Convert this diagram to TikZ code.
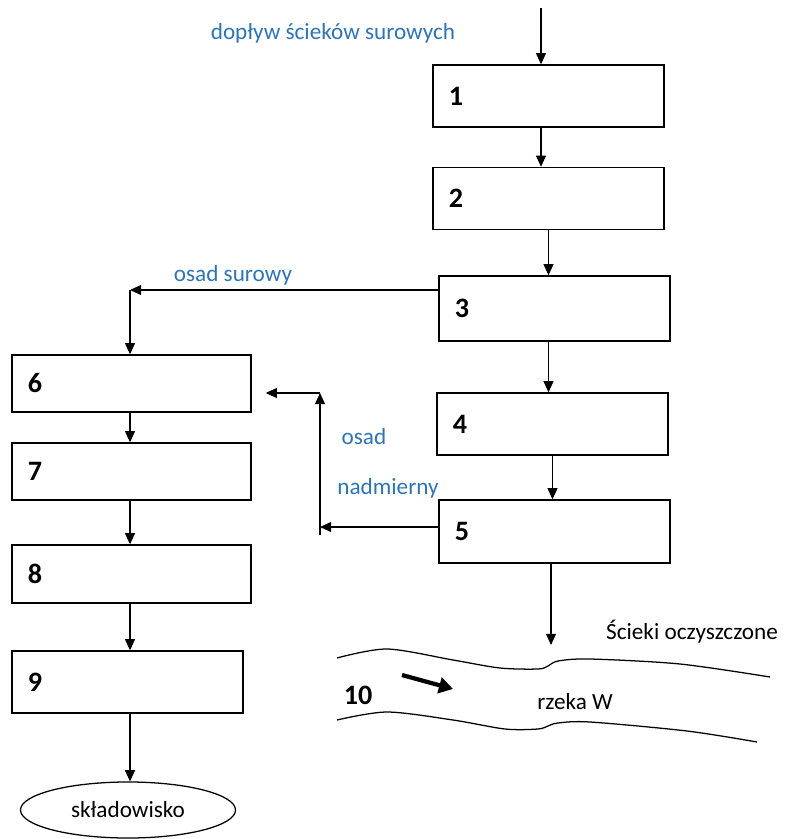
\documentclass[tikz,border=0pt]{standalone}
\usepackage{fontspec}
\setmainfont{Carlito}
\usetikzlibrary{arrows.meta, shapes.geometric}
\definecolor{flowblue}{RGB}{46,116,181}
\tikzset{
>={Triangle[length=2.8mm, width=2.5mm]}, % filled arrow heads
stage/.style={draw, line width=1pt, rectangle, inner xsep=0.4cm, text width=#1, minimum height=1.55cm, align=left, font=\fontsize{20}{22}\selectfont\bfseries}, % process box with its number on the left
stage/.default=4.975cm,
flow/.style={->, line width=0.8pt}, % connector between stages
note/.style={text=flowblue, font=\fontsize{16.5}{20}\selectfont}, % blue flow label
plain/.style={font=\fontsize{16.5}{20}\selectfont}, % black label
bank/.style={line width=0.9pt}, % river bank
}
\begin{document}
\begin{tikzpicture}[x=0.025cm, y=-0.025cm]
\useasboundingbox (0,0) rectangle (787,839);

% water line
\node[stage] (s_1) at (548.5,96) {1};
\node[stage] (s_2) at (548.5,198.5) {2};
\node[stage, minimum height=1.625cm] (s_3) at (554.5,308.5) {3};
\node[stage] (s_4) at (552.5,424) {4};
\node[stage, minimum height=1.575cm] (s_5) at (554.5,531.5) {5};

% sludge line
\node[stage=5.175cm, minimum height=1.425cm] (s_6) at (131.5,383.5) {6};
\node[stage=5.175cm, minimum height=1.425cm] (s_7) at (131.5,471.5) {7};
\node[stage=5.175cm, minimum height=1.45cm] (s_8) at (131.5,574) {8};
\node[stage] (s_9) at (127.5,682) {9};
\node[ellipse, draw, line width=0.9pt, minimum width=5.375cm, minimum height=1.4cm, plain] (dump) at (128,810) {składowisko};

\coordinate (inflow) at (541,8);
\coordinate (raw) at (130,290);
\coordinate (excess) at (320,527);
\coordinate (back) at (320,393);
\coordinate (outflow) at (551,645);

% labels
\node[note] (feed_lbl) at (333,33) {dopływ ścieków surowych};
\node[note] (raw_lbl) at (233,275) {osad surowy};
\node[note] (excess_lbl) at (364,437) {osad};
\node[note] (excess_lbl2) at (388,488) {nadmierny};
\node[plain] (clean_lbl) at (692,632) {Ścieki oczyszczone};
\node[plain] (river_lbl) at (575,702) {rzeka W};
\node[font=\fontsize{20}{22}\selectfont\bfseries] (river_no) at (358,695) {10};

\draw[flow] (inflow) -- (inflow |- s_1.north);
\draw[flow] (inflow |- s_1.south) -- (inflow |- s_2.north);
\draw[flow] (s_2.south) -- (s_2.south |- s_3.north);
\draw[flow] (s_2.south |- s_3.south) -- (s_2.south |- s_4.north);
\draw[flow] (s_4.south) -- (s_4.south |- s_5.north);
\draw[flow] (outflow |- s_5.south) -- (outflow);

\draw[flow] (s_3.west |- raw) -- (raw);
\draw[flow] (raw) -- (raw |- s_6.north);
\draw[flow] (s_5.west |- excess) -- (excess);
\draw[flow] ([yshift=-0.2cm]excess) -- (back);
\draw[flow] (back) -- ([xshift=0.35cm]s_6.east |- back);

\draw[flow] (raw |- s_6.south) -- (raw |- s_7.north);
\draw[flow] (raw |- s_7.south) -- (raw |- s_8.north);
\draw[flow] (raw |- s_8.south) -- (raw |- s_9.north);
\draw[flow] (raw |- s_9.south) -- (raw |- dump.north);

% river
\draw[bank] plot[smooth, tension=0.5] coordinates {(337,658) (387,649) (453,660) (500,668) (538,669) (548,666) (558,661) (590,659) (680,664) (770,677)};
\draw[bank] plot[smooth, tension=0.5] coordinates {(337,720) (387,712) (453,720) (505,729) (538,729) (548,726) (558,723) (590,722) (687,731) (757,742)};
\draw[-{Triangle[length=3.5mm, width=4mm]}, line width=3pt] (402,675) -- (453,689);
\end{tikzpicture}
\end{document}
